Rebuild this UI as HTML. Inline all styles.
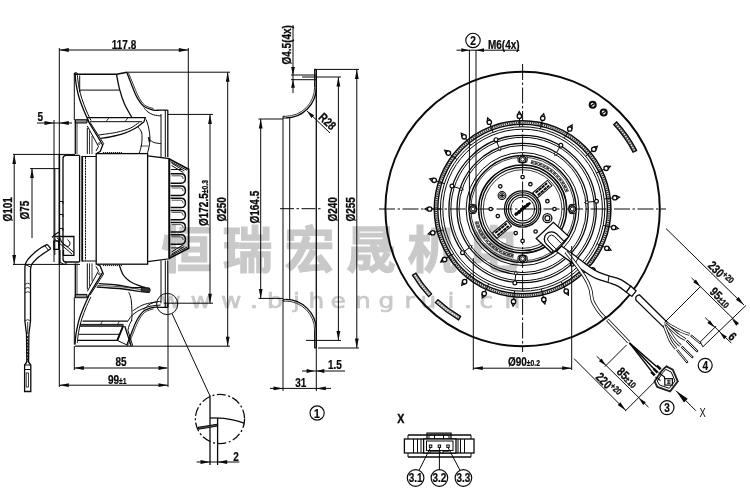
<!DOCTYPE html>
<html><head><meta charset="utf-8"><title>Drawing</title>
<style>html,body{margin:0;padding:0;background:#fff;}
svg{display:block;will-change:transform}
text{font-family:"Liberation Sans","Noto Sans CJK SC",sans-serif;}
</style></head><body>
<svg width="750" height="494" viewBox="0 0 750 494">
<rect width="750" height="494" fill="#fff"/>
<text x="161.5 222.5 284.5 346 407.5 469" y="267.5" font-size="50" font-weight="bold" fill="#c9c9c9" stroke="#c9c9c9" stroke-width="1.2" style="font-family:'Liberation Sans','Noto Sans CJK SC',sans-serif">恒瑞宏晟机电</text>
<text transform="scale(1.13,1)" x="142.04 168.58 195.58 221.24 236.28 259.29 273.01 292.48 314.16 334.96 357.96 372.12 396.02 410.62 424.34 446.46" y="308.3" font-size="22" fill="#c9c9c9" stroke="#c9c9c9" stroke-width="0.7" style="font-family:'DejaVu Sans','Liberation Sans',sans-serif">www.bjhengrui.cn</text>
<line x1="59.30" y1="48.00" x2="59.30" y2="387.00" stroke="#0a0a0a" stroke-width="1.0" />
<line x1="188.30" y1="48.00" x2="188.30" y2="170.00" stroke="#0a0a0a" stroke-width="1.0" />
<line x1="59.30" y1="50.00" x2="188.30" y2="50.00" stroke="#0a0a0a" stroke-width="1.0" />
<polygon points="59.30,50.00 68.80,48.10 68.80,51.90" fill="#0a0a0a"/>
<polygon points="188.30,50.00 178.80,51.90 178.80,48.10" fill="#0a0a0a"/>
<text transform="translate(124.00,48.50) rotate(0) scale(0.8,1)" font-size="12.5" font-weight="bold" text-anchor="middle" fill="#0a0a0a"  stroke="#0a0a0a" stroke-width="0.22">117.8</text>
<line x1="37.00" y1="123.00" x2="72.00" y2="123.00" stroke="#0a0a0a" stroke-width="1.0" />
<line x1="54.00" y1="120.00" x2="54.00" y2="262.00" stroke="#0a0a0a" stroke-width="1.0" />
<polygon points="54.00,123.00 44.50,124.90 44.50,121.10" fill="#0a0a0a"/>
<polygon points="59.30,123.00 68.80,121.10 68.80,124.90" fill="#0a0a0a"/>
<text transform="translate(37.50,121.00) rotate(0) scale(0.8,1)" font-size="12.5" font-weight="bold" text-anchor="start" fill="#0a0a0a"  stroke="#0a0a0a" stroke-width="0.22">5</text>
<line x1="13.00" y1="154.40" x2="75.00" y2="154.40" stroke="#0a0a0a" stroke-width="1.0" />
<line x1="13.00" y1="264.40" x2="80.00" y2="264.40" stroke="#0a0a0a" stroke-width="1.0" />
<line x1="14.20" y1="154.40" x2="14.20" y2="264.40" stroke="#0a0a0a" stroke-width="1.0" />
<polygon points="14.20,154.40 16.10,163.90 12.30,163.90" fill="#0a0a0a"/>
<polygon points="14.20,264.40 12.30,254.90 16.10,254.90" fill="#0a0a0a"/>
<text transform="translate(11.50,221.50) rotate(-90) scale(0.8,1)" font-size="12.5" font-weight="bold" text-anchor="start" fill="#0a0a0a"  stroke="#0a0a0a" stroke-width="0.3">Ø101</text>
<line x1="30.00" y1="168.60" x2="59.00" y2="168.60" stroke="#0a0a0a" stroke-width="1.0" />
<line x1="32.00" y1="168.60" x2="32.00" y2="238.00" stroke="#0a0a0a" stroke-width="1.0" />
<polygon points="32.00,168.60 33.90,178.10 30.10,178.10" fill="#0a0a0a"/>
<text transform="translate(28.80,219.50) rotate(-90) scale(0.8,1)" font-size="12.5" font-weight="bold" text-anchor="start" fill="#0a0a0a"  stroke="#0a0a0a" stroke-width="0.3">Ø75</text>
<line x1="168.00" y1="114.40" x2="213.00" y2="114.40" stroke="#0a0a0a" stroke-width="1.0" />
<line x1="164.00" y1="303.20" x2="213.00" y2="303.20" stroke="#0a0a0a" stroke-width="1.0" />
<line x1="210.00" y1="114.40" x2="210.00" y2="303.20" stroke="#0a0a0a" stroke-width="1.0" />
<polygon points="210.00,114.40 211.90,123.90 208.10,123.90" fill="#0a0a0a"/>
<polygon points="210.00,303.20 208.10,293.70 211.90,293.70" fill="#0a0a0a"/>
<text transform="translate(207.50,226.00) rotate(-90) scale(0.8,1)" font-size="12.5" font-weight="bold" text-anchor="start" fill="#0a0a0a"  stroke="#0a0a0a" stroke-width="0.3">Ø172.5<tspan font-size="8.5">±0.3</tspan></text>
<line x1="127.00" y1="72.20" x2="230.00" y2="72.20" stroke="#0a0a0a" stroke-width="1.0" />
<line x1="133.00" y1="346.20" x2="230.00" y2="346.20" stroke="#0a0a0a" stroke-width="1.0" />
<line x1="227.70" y1="72.20" x2="227.70" y2="346.20" stroke="#0a0a0a" stroke-width="1.0" />
<polygon points="227.70,72.20 229.60,81.70 225.80,81.70" fill="#0a0a0a"/>
<polygon points="227.70,346.20 225.80,336.70 229.60,336.70" fill="#0a0a0a"/>
<text transform="translate(226.00,221.50) rotate(-90) scale(0.8,1)" font-size="12.5" font-weight="bold" text-anchor="start" fill="#0a0a0a"  stroke="#0a0a0a" stroke-width="0.3">Ø250</text>
<line x1="74.30" y1="346.00" x2="74.30" y2="370.00" stroke="#0a0a0a" stroke-width="1.0" />
<line x1="74.30" y1="368.00" x2="167.00" y2="368.00" stroke="#0a0a0a" stroke-width="1.0" />
<polygon points="74.30,368.00 83.80,366.10 83.80,369.90" fill="#0a0a0a"/>
<polygon points="168.00,368.00 158.50,369.90 158.50,366.10" fill="#0a0a0a"/>
<text transform="translate(121.00,366.00) rotate(0) scale(0.8,1)" font-size="12.5" font-weight="bold" text-anchor="middle" fill="#0a0a0a"  stroke="#0a0a0a" stroke-width="0.22">85</text>
<line x1="168.00" y1="303.00" x2="168.00" y2="387.00" stroke="#0a0a0a" stroke-width="1.0" />
<line x1="59.30" y1="385.20" x2="168.00" y2="385.20" stroke="#0a0a0a" stroke-width="1.0" />
<polygon points="59.30,385.20 68.80,383.30 68.80,387.10" fill="#0a0a0a"/>
<polygon points="168.00,385.20 158.50,387.10 158.50,383.30" fill="#0a0a0a"/>
<text transform="translate(108.00,383.50) rotate(0) scale(0.8,1)" font-size="12.5" font-weight="bold" text-anchor="start" fill="#0a0a0a"  stroke="#0a0a0a" stroke-width="0.22">99<tspan font-size="8.5">±1</tspan></text>
<path d="M75.00,72.80 C75.10,74.00 75.30,77.47 75.60,80.00 C75.90,82.53 76.15,84.83 76.80,88.00 C77.45,91.17 78.22,95.00 79.50,99.00 C80.78,103.00 82.92,108.17 84.50,112.00 C86.08,115.83 88.25,120.33 89.00,122.00" stroke="#0a0a0a" stroke-width="1.3" fill="none" />
<path d="M77.30,74.50 C77.42,75.58 77.68,78.67 78.00,81.00 C78.32,83.33 78.57,85.58 79.20,88.50 C79.83,91.42 80.58,94.75 81.80,98.50 C83.02,102.25 84.97,107.33 86.50,111.00 C88.03,114.67 90.25,118.92 91.00,120.50" stroke="#0a0a0a" stroke-width="1.0" fill="none" />
<path d="M74.30,72.90 L74.30,120.00" stroke="#0a0a0a" stroke-width="1.0" fill="none" />
<path d="M75.00,74.30 L116.80,74.30 L126.80,72.30" stroke="#0a0a0a" stroke-width="1.4300000000000002" fill="none" />
<path d="M74.3,75 Q74.3,72.6 75.8,72.6 Q77.4,72.6 77.6,74.5" stroke="#0a0a0a" stroke-width="1.0" fill="none" />
<path d="M79.70,75.50 L79.70,92.00" stroke="#0a0a0a" stroke-width="1.0" fill="none" />
<path d="M79.70,90.10 L119.50,90.10" stroke="#0a0a0a" stroke-width="1.0" fill="none" />
<path d="M116.50,74.30 C117.02,76.80 118.28,84.38 119.60,89.30 C120.92,94.22 122.38,99.15 124.40,103.80 C126.42,108.45 130.48,114.97 131.70,117.20" stroke="#0a0a0a" stroke-width="1.3" fill="none" />
<path d="M126.80,72.30 C127.50,74.12 129.37,79.15 131.00,83.20 C132.63,87.25 134.47,92.75 136.60,96.60 C138.73,100.45 140.98,104.05 143.80,106.30 C146.62,108.55 150.80,109.47 153.50,110.10 C156.20,110.73 157.62,110.10 160.00,110.10 C162.38,110.10 166.50,110.10 167.80,110.10" stroke="#0a0a0a" stroke-width="1.3" fill="none" />
<path d="M128.50,72.80 C129.20,74.50 131.08,79.13 132.70,83.00 C134.32,86.87 136.22,92.33 138.20,96.00 C140.18,99.67 142.05,102.90 144.60,105.00 C147.15,107.10 152.02,108.00 153.50,108.60" stroke="#0a0a0a" stroke-width="0.8" fill="none" />
<path d="M143.80,107.80 C144.50,108.50 146.38,110.83 148.00,112.00 C149.62,113.17 151.33,114.13 153.50,114.80 C155.67,115.47 159.75,115.80 161.00,116.00" stroke="#0a0a0a" stroke-width="1.0" fill="none" />
<path d="M167.80,110.10 L167.80,157.00" stroke="#0a0a0a" stroke-width="1.3" fill="none" />
<path d="M165.30,110.10 L165.30,157.00" stroke="#0a0a0a" stroke-width="1.0" fill="none" />
<path d="M161.00,114.00 L161.00,157.00" stroke="#0a0a0a" stroke-width="1.0" fill="none" />
<path d="M75.00,344.60 C75.10,343.40 75.30,339.93 75.60,337.40 C75.90,334.87 76.15,332.57 76.80,329.40 C77.45,326.23 78.22,322.40 79.50,318.40 C80.78,314.40 82.92,309.23 84.50,305.40 C86.08,301.57 88.25,297.07 89.00,295.40" stroke="#0a0a0a" stroke-width="1.3" fill="none" />
<path d="M77.30,342.90 C77.42,341.82 77.68,338.73 78.00,336.40 C78.32,334.07 78.57,331.82 79.20,328.90 C79.83,325.98 80.58,322.65 81.80,318.90 C83.02,315.15 84.97,310.07 86.50,306.40 C88.03,302.73 90.25,298.48 91.00,296.90" stroke="#0a0a0a" stroke-width="1.0" fill="none" />
<path d="M74.30,344.50 L74.30,297.40" stroke="#0a0a0a" stroke-width="1.0" fill="none" />
<path d="M126.80,345.10 C127.50,343.28 129.37,338.25 131.00,334.20 C132.63,330.15 134.47,324.65 136.60,320.80 C138.73,316.95 140.98,313.35 143.80,311.10 C146.62,308.85 150.80,307.93 153.50,307.30 C156.20,306.67 157.62,307.30 160.00,307.30 C162.38,307.30 166.50,307.30 167.80,307.30" stroke="#0a0a0a" stroke-width="1.3" fill="none" />
<path d="M128.50,344.60 C129.20,342.90 131.08,338.27 132.70,334.40 C134.32,330.53 136.22,325.07 138.20,321.40 C140.18,317.73 142.05,314.50 144.60,312.40 C147.15,310.30 152.02,309.40 153.50,308.80" stroke="#0a0a0a" stroke-width="0.8" fill="none" />
<path d="M143.80,309.60 C144.50,308.90 146.38,306.57 148.00,305.40 C149.62,304.23 151.33,303.27 153.50,302.60 C155.67,301.93 159.75,301.60 161.00,301.40" stroke="#0a0a0a" stroke-width="1.0" fill="none" />
<path d="M167.80,307.30 L167.80,260.40" stroke="#0a0a0a" stroke-width="1.3" fill="none" />
<path d="M165.30,307.30 L165.30,260.40" stroke="#0a0a0a" stroke-width="1.0" fill="none" />
<path d="M161.00,303.40 L161.00,260.40" stroke="#0a0a0a" stroke-width="1.0" fill="none" />
<path d="M75.30,119.70 L86.90,119.70 L86.90,123.00 L75.30,123.00 Z" stroke="#0a0a0a" stroke-width="1.0" fill="#8a8a8a" />
<path d="M75.30,119.70 L75.30,154.00" stroke="#0a0a0a" stroke-width="1.3" fill="none" />
<path d="M77.00,123.00 L77.00,154.00" stroke="#0a0a0a" stroke-width="0.8" fill="none" />
<path d="M87.30,119.70 L102.70,145.00 L100.20,151.50 L97.00,153.00" stroke="#0a0a0a" stroke-width="1.3" fill="none" />
<path d="M90.00,122.30 L103.60,143.50 L102.70,145.00" stroke="#0a0a0a" stroke-width="1.0" fill="none" />
<path d="M87.30,126.00 L98.50,146.50 L96.00,151.00" stroke="#0a0a0a" stroke-width="1.0" fill="none" />
<circle cx="99.30" cy="143.60" r="0.90" stroke="#0a0a0a" stroke-width="0.8" fill="none" />
<path d="M87.30,128.00 L87.30,154.00" stroke="#0a0a0a" stroke-width="1.0" fill="none" />
<path d="M89.50,131.00 L89.50,154.00" stroke="#0a0a0a" stroke-width="0.8" fill="none" />
<path d="M92.00,136.00 L92.00,154.00" stroke="#0a0a0a" stroke-width="0.8" fill="none" />
<path d="M75.30,297.70 L86.90,297.70 L86.90,294.40 L75.30,294.40 Z" stroke="#0a0a0a" stroke-width="1.0" fill="#8a8a8a" />
<path d="M75.30,297.70 L75.30,263.40" stroke="#0a0a0a" stroke-width="1.3" fill="none" />
<path d="M77.00,294.40 L77.00,263.40" stroke="#0a0a0a" stroke-width="0.8" fill="none" />
<path d="M87.30,297.70 L102.70,272.40 L100.20,265.90 L97.00,264.40" stroke="#0a0a0a" stroke-width="1.3" fill="none" />
<path d="M90.00,295.10 L103.60,273.90 L102.70,272.40" stroke="#0a0a0a" stroke-width="1.0" fill="none" />
<path d="M87.30,291.40 L98.50,270.90 L96.00,266.40" stroke="#0a0a0a" stroke-width="1.0" fill="none" />
<circle cx="99.30" cy="273.80" r="0.90" stroke="#0a0a0a" stroke-width="0.8" fill="none" />
<path d="M87.30,289.40 L87.30,263.40" stroke="#0a0a0a" stroke-width="1.0" fill="none" />
<path d="M89.50,286.40 L89.50,263.40" stroke="#0a0a0a" stroke-width="0.8" fill="none" />
<path d="M92.00,281.40 L92.00,263.40" stroke="#0a0a0a" stroke-width="0.8" fill="none" />
<path d="M87.30,117.70 L145.30,117.70 L144.00,121.70" stroke="#0a0a0a" stroke-width="1.3" fill="none" />
<path d="M90.00,121.70 L142.00,121.70" stroke="#0a0a0a" stroke-width="1.0" fill="none" />
<line x1="109.00" y1="117.70" x2="106.00" y2="121.70" stroke="#0a0a0a" stroke-width="0.8" />
<line x1="128.00" y1="117.70" x2="125.00" y2="121.70" stroke="#0a0a0a" stroke-width="0.8" />
<path d="M144.00,121.70 C142.55,122.80 138.75,126.30 135.30,128.30 C131.85,130.30 127.52,132.25 123.30,133.70 C119.08,135.15 113.77,136.23 110.00,137.00 C106.23,137.77 102.25,138.08 100.70,138.30" stroke="#0a0a0a" stroke-width="1.3" fill="none" />
<path d="M139.30,122.30 C137.75,123.30 133.77,126.63 130.00,128.30 C126.23,129.97 121.92,131.18 116.70,132.30 C111.48,133.42 101.70,134.55 98.70,135.00" stroke="#0a0a0a" stroke-width="1.0" fill="none" />
<path d="M138.00,127.00 C138.50,127.67 140.33,129.55 141.00,131.00 C141.67,132.45 141.92,133.37 142.00,135.70 C142.08,138.03 141.95,142.12 141.50,145.00 C141.05,147.88 139.67,151.67 139.30,153.00" stroke="#0a0a0a" stroke-width="1.0" fill="none" />
<path d="M146.20,119.50 C146.62,120.92 148.07,124.87 148.70,128.00 C149.33,131.13 149.95,135.13 150.00,138.30 C150.05,141.47 149.45,144.43 149.00,147.00 C148.55,149.57 147.58,152.58 147.30,153.70" stroke="#0a0a0a" stroke-width="1.0" fill="none" />
<path d="M149.50,139.50 C150.25,140.00 152.08,141.80 154.00,142.50 C155.92,143.20 159.83,143.50 161.00,143.70" stroke="#0a0a0a" stroke-width="1.0" fill="none" />
<line x1="148.60" y1="137.00" x2="149.60" y2="142.00" stroke="#0a0a0a" stroke-width="1.6" />
<line x1="140.50" y1="146.00" x2="148.50" y2="146.00" stroke="#0a0a0a" stroke-width="0.7" />
<line x1="103.00" y1="152.60" x2="122.00" y2="152.60" stroke="#0a0a0a" stroke-width="1.0" stroke-dasharray="1.2 0.8"/>
<path d="M98.70,283.70 C101.70,283.92 110.82,284.33 116.70,285.00 C122.58,285.67 129.33,287.37 134.00,287.70 C138.67,288.03 142.92,287.12 144.70,287.00" stroke="#0a0a0a" stroke-width="1.3" fill="none" />
<path d="M96.70,287.00 C98.92,287.17 105.57,287.67 110.00,288.00 C114.43,288.33 118.18,288.38 123.30,289.00 C128.42,289.62 137.80,291.25 140.70,291.70" stroke="#0a0a0a" stroke-width="1.3" fill="none" />
<path d="M97.50,285.40 C101.25,285.63 112.75,286.12 120.00,286.80 C127.25,287.48 137.50,289.05 141.00,289.50" stroke="#0a0a0a" stroke-width="0.7" fill="none" />
<path d="M141.5,287.3 L149.5,288 Q151,290.3 149.3,292.6 L141,291.8 Z" stroke="#0a0a0a" stroke-width="1.0" fill="#333" />
<path d="M119.30,265.00 C119.58,265.83 120.33,268.33 121.00,270.00 C121.67,271.67 122.22,273.42 123.30,275.00 C124.38,276.58 125.93,278.17 127.50,279.50 C129.07,280.83 130.17,281.75 132.70,283.00 C135.23,284.25 141.03,286.33 142.70,287.00" stroke="#0a0a0a" stroke-width="1.3" fill="none" />
<path d="M128.70,292.30 C129.02,293.08 130.13,295.22 130.60,297.00 C131.07,298.78 131.27,300.00 131.50,303.00 C131.73,306.00 132.00,312.00 132.00,315.00 C132.00,318.00 131.58,320.00 131.50,321.00" stroke="#0a0a0a" stroke-width="1.0" fill="none" />
<line x1="103.00" y1="265.60" x2="122.00" y2="265.60" stroke="#0a0a0a" stroke-width="1.0" stroke-dasharray="1.2 0.8"/>
<path d="M132.70,311.00 C133.58,310.42 136.00,308.62 138.00,307.50 C140.00,306.38 141.58,305.27 144.70,304.30 C147.82,303.33 154.70,302.13 156.70,301.70" stroke="#0a0a0a" stroke-width="1.0" fill="none" />
<path d="M82.60,321.20 L127.90,321.20" stroke="#0a0a0a" stroke-width="1.3" fill="none" />
<path d="M80.00,324.40 L123.50,324.40" stroke="#0a0a0a" stroke-width="1.0" fill="none" />
<line x1="102.50" y1="321.20" x2="100.50" y2="324.40" stroke="#0a0a0a" stroke-width="0.8" />
<line x1="119.50" y1="321.20" x2="117.50" y2="324.40" stroke="#0a0a0a" stroke-width="0.8" />
<path d="M80.00,326.00 L123.10,326.00 L117.30,340.40 L77.80,340.40" stroke="#0a0a0a" stroke-width="1.3" fill="none" />
<line x1="123.10" y1="326.00" x2="117.30" y2="340.40" stroke="#0a0a0a" stroke-width="1.8" />
<path d="M79.00,334.30 L119.50,334.30" stroke="#0a0a0a" stroke-width="1.0" fill="none" />
<path d="M117.30,340.40 L127.90,345.40" stroke="#0a0a0a" stroke-width="1.0" fill="none" />
<path d="M124.70,326.00 L131.10,345.70" stroke="#0a0a0a" stroke-width="1.3" fill="none" />
<path d="M127.90,330.30 L132.70,345.70" stroke="#0a0a0a" stroke-width="1.0" fill="none" />
<path d="M127.90,321.20 C128.42,320.42 129.82,317.87 131.00,316.50 C132.18,315.13 133.33,314.17 135.00,313.00 C136.67,311.83 138.50,310.62 141.00,309.50 C143.50,308.38 146.72,307.05 150.00,306.30 C153.28,305.55 158.92,305.22 160.70,305.00" stroke="#0a0a0a" stroke-width="1.0" fill="none" />
<path d="M127.90,330.30 C128.17,329.33 128.82,326.22 129.50,324.50 C130.18,322.78 131.58,320.75 132.00,320.00" stroke="#0a0a0a" stroke-width="1.0" fill="none" />
<line x1="75.10" y1="346.05" x2="133.00" y2="346.05" stroke="#0a0a0a" stroke-width="1.3" />
<rect x="96.20" y="153.60" width="51.40" height="110.60" stroke="#0a0a0a" stroke-width="1.3" fill="none" />
<path d="M82.00,156.50 L96.20,156.50" stroke="#0a0a0a" stroke-width="1.0" fill="none" />
<path d="M82.00,261.00 L96.20,261.00" stroke="#0a0a0a" stroke-width="1.0" fill="none" />
<line x1="82.20" y1="156.00" x2="82.20" y2="261.50" stroke="#0a0a0a" stroke-width="1.8" />
<line x1="79.60" y1="155.30" x2="79.60" y2="262.00" stroke="#0a0a0a" stroke-width="1.3" />
<line x1="85.50" y1="157.00" x2="85.50" y2="260.50" stroke="#0a0a0a" stroke-width="1.0" stroke-dasharray="2 0.7"/>
<path d="M79.4,155.3 L66,155.3 Q63,155.3 63,158.5 L63,259 Q63,262 66,262 L79.4,262" stroke="#0a0a0a" stroke-width="1.3" fill="none" />
<line x1="59.40" y1="154.40" x2="59.40" y2="264.40" stroke="#0a0a0a" stroke-width="1.5" />
<path d="M59.4,154.6 L63,154.6 M59.4,264.2 L66,264.2 L66,262" stroke="#0a0a0a" stroke-width="1.0" fill="none" />
<line x1="54.80" y1="168.60" x2="54.80" y2="255.00" stroke="#0a0a0a" stroke-width="1.0" />
<path d="M59.40,201.50 L63.00,201.50 L63.00,204.00" stroke="#0a0a0a" stroke-width="1.0" fill="none" />
<path d="M59.40,214.50 L63.00,214.50 L63.00,217.00" stroke="#0a0a0a" stroke-width="1.0" fill="none" />
<path d="M59.40,228.50 L63.00,228.50 L63.00,231.00" stroke="#0a0a0a" stroke-width="1.0" fill="none" />
<path d="M147.60,155.80 L169.30,158.60 L169.30,258.80 L147.60,261.60" stroke="#0a0a0a" stroke-width="1.3" fill="none" />
<path d="M169.30,159.10 L188.60,169.20 L188.60,248.20 L169.30,258.30" stroke="#0a0a0a" stroke-width="1.7" fill="none" />
<path d="M170.50,161.60 L187.00,170.30" stroke="#0a0a0a" stroke-width="1.0" fill="none" />
<path d="M170.50,255.80 L187.00,247.10" stroke="#0a0a0a" stroke-width="1.0" fill="none" />
<line x1="169.30" y1="159.00" x2="169.30" y2="258.40" stroke="#0a0a0a" stroke-width="1.9" />
<path d="M170.6,173.80 L180.9,173.80 Q185.4,173.80 185.4,178.50 Q185.4,183.20 180.9,183.20 L170.6,183.20" stroke="#0a0a0a" stroke-width="1.5" fill="none" />
<path d="M171.6,175.80 L180.4,175.80 Q183.20000000000002,175.80 183.20000000000002,179.00" stroke="#0a0a0a" stroke-width="0.7" fill="none" />
<path d="M170.6,186.00 L180.9,186.00 Q185.4,186.00 185.4,190.70 Q185.4,195.40 180.9,195.40 L170.6,195.40" stroke="#0a0a0a" stroke-width="1.5" fill="none" />
<path d="M171.6,188.00 L180.4,188.00 Q183.20000000000002,188.00 183.20000000000002,191.20" stroke="#0a0a0a" stroke-width="0.7" fill="none" />
<path d="M170.6,198.20 L180.9,198.20 Q185.4,198.20 185.4,202.90 Q185.4,207.60 180.9,207.60 L170.6,207.60" stroke="#0a0a0a" stroke-width="1.5" fill="none" />
<path d="M171.6,200.20 L180.4,200.20 Q183.20000000000002,200.20 183.20000000000002,203.40" stroke="#0a0a0a" stroke-width="0.7" fill="none" />
<path d="M170.6,210.40 L180.9,210.40 Q185.4,210.40 185.4,215.10 Q185.4,219.80 180.9,219.80 L170.6,219.80" stroke="#0a0a0a" stroke-width="1.5" fill="none" />
<path d="M171.6,212.40 L180.4,212.40 Q183.20000000000002,212.40 183.20000000000002,215.60" stroke="#0a0a0a" stroke-width="0.7" fill="none" />
<path d="M170.6,222.60 L180.9,222.60 Q185.4,222.60 185.4,227.30 Q185.4,232.00 180.9,232.00 L170.6,232.00" stroke="#0a0a0a" stroke-width="1.5" fill="none" />
<path d="M171.6,224.60 L180.4,224.60 Q183.20000000000002,224.60 183.20000000000002,227.80" stroke="#0a0a0a" stroke-width="0.7" fill="none" />
<path d="M170.6,234.80 L180.9,234.80 Q185.4,234.80 185.4,239.50 Q185.4,244.20 180.9,244.20 L170.6,244.20" stroke="#0a0a0a" stroke-width="1.5" fill="none" />
<path d="M171.6,236.80 L180.4,236.80 Q183.20000000000002,236.80 183.20000000000002,240.00" stroke="#0a0a0a" stroke-width="0.7" fill="none" />
<path d="M171.6,163.2 L184.4,170.9 M171.6,165.5 L183.4,172.6 M171.1,169.5 L181.9,169.5" stroke="#0a0a0a" stroke-width="1.0" fill="none" />
<path d="M171.6,254.2 L184.4,246.5 M171.6,251.9 L183.4,244.8 M171.1,247.9 L181.9,247.9" stroke="#0a0a0a" stroke-width="1.0" fill="none" />
<path d="M47.20,244.40 C46.17,244.97 42.93,246.58 41.00,247.80 C39.07,249.02 37.35,250.25 35.60,251.70 C33.85,253.15 31.92,255.03 30.50,256.50 C29.08,257.97 27.98,259.08 27.10,260.50 C26.22,261.92 25.57,263.42 25.20,265.00 C24.83,266.58 24.95,269.17 24.90,270.00" stroke="#0a0a0a" stroke-width="1.3" fill="none" />
<path d="M50.80,248.70 C49.83,249.33 46.92,251.18 45.00,252.50 C43.08,253.82 40.97,255.27 39.30,256.60 C37.63,257.93 36.22,259.27 35.00,260.50 C33.78,261.73 32.72,262.75 32.00,264.00 C31.28,265.25 30.95,266.67 30.70,268.00 C30.45,269.33 30.53,271.33 30.50,272.00" stroke="#0a0a0a" stroke-width="1.3" fill="none" />
<path d="M47.20,244.40 L50.80,248.70" stroke="#0a0a0a" stroke-width="1.3" fill="none" />
<path d="M44.80,245.80 L48.40,250.20" stroke="#0a0a0a" stroke-width="1.0" fill="none" />
<path d="M25.30,264.50 L30.90,267.20" stroke="#0a0a0a" stroke-width="1.0" fill="none" />
<path d="M24.90,270.00 L24.90,321.00 L26.50,334.00 L26.80,362.00 L24.60,365.00 L24.60,391.50 L30.80,391.50 L30.80,365.00 L28.60,362.00 L28.90,334.00 L30.50,321.00 L30.50,272.00" stroke="#0a0a0a" stroke-width="1.3" fill="none" />
<line x1="27.70" y1="322.00" x2="27.70" y2="334.00" stroke="#0a0a0a" stroke-width="0.8" />
<path d="M24.90,284.50 C25.37,284.28 26.77,283.20 27.70,283.20 C28.63,283.20 30.03,284.28 30.50,284.50" stroke="#0a0a0a" stroke-width="0.8" fill="none" />
<path d="M24.90,288.80 C25.37,288.58 26.77,287.50 27.70,287.50 C28.63,287.50 30.03,288.58 30.50,288.80" stroke="#0a0a0a" stroke-width="0.8" fill="none" />
<path d="M24.90,293.00 C25.37,292.78 26.77,291.70 27.70,291.70 C28.63,291.70 30.03,292.78 30.50,293.00" stroke="#0a0a0a" stroke-width="0.8" fill="none" />
<path d="M24.90,321.00 C25.37,320.78 26.77,319.70 27.70,319.70 C28.63,319.70 30.03,320.78 30.50,321.00" stroke="#0a0a0a" stroke-width="0.8" fill="none" />
<line x1="27.70" y1="336.00" x2="27.70" y2="362.00" stroke="#0a0a0a" stroke-width="1.2" stroke-dasharray="2 1.2"/>
<path d="M25.00,365.00 L30.40,365.00" stroke="#0a0a0a" stroke-width="1.0" fill="none" />
<path d="M25.00,369.50 L30.40,369.50" stroke="#0a0a0a" stroke-width="1.0" fill="none" />
<rect x="26.20" y="373.00" width="2.20" height="14.00" stroke="#0a0a0a" stroke-width="0.8" fill="none" />
<path d="M55.00,236.50 L73.90,236.50 L73.90,255.30 L63.50,255.30 L63.50,250.00" stroke="#0a0a0a" stroke-width="1.3" fill="none" />
<path d="M55.00,239.50 L72.00,254.00" stroke="#0a0a0a" stroke-width="1.0" fill="none" />
<path d="M57.00,238.00 L73.90,252.50" stroke="#0a0a0a" stroke-width="1.0" fill="none" />
<path d="M53.80,240.80 L58.70,240.80 L58.70,249.30 L53.80,249.30 L53.80,240.80" stroke="#0a0a0a" stroke-width="1.3" fill="none" />
<path d="M60.00,238.00 C60.50,239.00 61.67,242.58 63.00,244.00 C64.33,245.42 66.83,246.67 68.00,246.50 C69.17,246.33 70.08,244.17 70.00,243.00 C69.92,241.83 67.92,240.08 67.50,239.50" stroke="#0a0a0a" stroke-width="1.0" fill="none" />
<path d="M52.00,237.50 C52.50,237.00 53.83,235.42 55.00,234.50 C56.17,233.58 58.33,232.42 59.00,232.00" stroke="#0a0a0a" stroke-width="1.3" fill="none" />
<path d="M60.00,250.00 L60.00,262.00 L63.50,264.20" stroke="#0a0a0a" stroke-width="1.0" fill="none" />
<circle cx="167.20" cy="304.00" r="10.60" stroke="#0a0a0a" stroke-width="1.0" fill="none" />
<line x1="172.00" y1="313.50" x2="210.00" y2="396.00" stroke="#0a0a0a" stroke-width="1.0" />
<circle cx="220.00" cy="419.00" r="24.60" stroke="#0a0a0a" stroke-width="1.3" fill="none" stroke-dasharray="9 2.5 2 2.5"/>
<line x1="210.00" y1="395.60" x2="210.00" y2="465.00" stroke="#0a0a0a" stroke-width="1.3" />
<line x1="217.60" y1="418.00" x2="217.60" y2="465.00" stroke="#0a0a0a" stroke-width="1.3" />
<line x1="210.00" y1="418.00" x2="217.60" y2="418.00" stroke="#0a0a0a" stroke-width="1.3" />
<path d="M217.60,418.00 C219.17,418.13 223.93,418.37 227.00,418.80 C230.07,419.23 233.17,419.87 236.00,420.60 C238.83,421.33 242.67,422.77 244.00,423.20" stroke="#0a0a0a" stroke-width="1.3" fill="none" />
<path d="M198.00,427.30 L217.60,424.20 L217.60,426.00 L198.60,429.20 Z" stroke="#0a0a0a" stroke-width="1.0" fill="#555" />
<line x1="196.60" y1="462.00" x2="239.40" y2="462.00" stroke="#0a0a0a" stroke-width="1.0" />
<polygon points="210.00,462.00 200.50,463.90 200.50,460.10" fill="#0a0a0a"/>
<polygon points="217.60,462.00 227.10,460.10 227.10,463.90" fill="#0a0a0a"/>
<text transform="translate(233.20,460.50) rotate(0) scale(0.8,1)" font-size="12.5" font-weight="bold" text-anchor="start" fill="#0a0a0a"  stroke="#0a0a0a" stroke-width="0.22">2</text>
<line x1="293.00" y1="25.00" x2="293.00" y2="93.00" stroke="#0a0a0a" stroke-width="1.0" />
<line x1="291.00" y1="75.00" x2="316.00" y2="75.00" stroke="#0a0a0a" stroke-width="1.0" />
<line x1="291.00" y1="79.70" x2="316.00" y2="79.70" stroke="#0a0a0a" stroke-width="1.0" />
<polygon points="293.00,75.00 291.10,67.00 294.90,67.00" fill="#0a0a0a"/>
<polygon points="293.00,79.70 294.90,87.70 291.10,87.70" fill="#0a0a0a"/>
<text transform="translate(291.00,64.50) rotate(-90) scale(0.8,1)" font-size="12.5" font-weight="bold" text-anchor="start" fill="#0a0a0a"  stroke="#0a0a0a" stroke-width="0.3">Ø4.5(4x)</text>
<line x1="314.00" y1="69.40" x2="359.00" y2="69.40" stroke="#0a0a0a" stroke-width="1.0" />
<line x1="302.00" y1="77.00" x2="341.00" y2="77.00" stroke="#0a0a0a" stroke-width="1.0" />
<line x1="356.80" y1="69.40" x2="356.80" y2="348.00" stroke="#0a0a0a" stroke-width="1.0" />
<polygon points="356.80,69.40 358.70,78.90 354.90,78.90" fill="#0a0a0a"/>
<polygon points="356.80,348.00 354.90,338.50 358.70,338.50" fill="#0a0a0a"/>
<line x1="338.40" y1="77.00" x2="338.40" y2="340.40" stroke="#0a0a0a" stroke-width="1.0" />
<polygon points="338.40,77.00 340.30,86.50 336.50,86.50" fill="#0a0a0a"/>
<polygon points="338.40,340.40 336.50,330.90 340.30,330.90" fill="#0a0a0a"/>
<line x1="258.50" y1="119.00" x2="283.00" y2="119.00" stroke="#0a0a0a" stroke-width="1.0" />
<line x1="258.50" y1="298.40" x2="283.00" y2="298.40" stroke="#0a0a0a" stroke-width="1.0" />
<line x1="260.70" y1="119.00" x2="260.70" y2="298.40" stroke="#0a0a0a" stroke-width="1.0" />
<polygon points="260.70,119.00 262.60,128.50 258.80,128.50" fill="#0a0a0a"/>
<polygon points="260.70,298.40 258.80,288.90 262.60,288.90" fill="#0a0a0a"/>
<text transform="translate(258.50,223.50) rotate(-90) scale(0.8,1)" font-size="12.5" font-weight="bold" text-anchor="start" fill="#0a0a0a"  stroke="#0a0a0a" stroke-width="0.3">Ø164.5</text>
<text transform="translate(337.00,221.50) rotate(-90) scale(0.8,1)" font-size="12.5" font-weight="bold" text-anchor="start" fill="#0a0a0a"  stroke="#0a0a0a" stroke-width="0.3">Ø240</text>
<text transform="translate(355.00,221.50) rotate(-90) scale(0.8,1)" font-size="12.5" font-weight="bold" text-anchor="start" fill="#0a0a0a"  stroke="#0a0a0a" stroke-width="0.3">Ø255</text>
<line x1="318.00" y1="348.00" x2="359.00" y2="348.00" stroke="#0a0a0a" stroke-width="1.0" />
<line x1="306.00" y1="340.40" x2="341.00" y2="340.40" stroke="#0a0a0a" stroke-width="1.0" />
<path d="M316.30,69.40 L316.30,87.30" stroke="#0a0a0a" stroke-width="1.3" fill="none" />
<path d="M314.60,69.40 L314.60,87.30" stroke="#0a0a0a" stroke-width="1.0" fill="none" />
<path d="M314.60,69.40 L316.30,69.40" stroke="#0a0a0a" stroke-width="1.0" fill="none" />
<path d="M316.3,87.30 A30.7,30.7 0 0 1 285.6,118.00" fill="none" stroke="#0a0a0a" stroke-width="1.3"/>
<path d="M314.6,87.30 A29,29 0 0 1 285.6,116.30" fill="none" stroke="#0a0a0a" stroke-width="0.8"/>
<path d="M285.60,118.00 L283.00,118.00 L283.00,116.30 L285.60,116.30" stroke="#0a0a0a" stroke-width="1.0" fill="none" />
<path d="M316.30,348.00 L316.30,330.10" stroke="#0a0a0a" stroke-width="1.3" fill="none" />
<path d="M314.60,348.00 L314.60,330.10" stroke="#0a0a0a" stroke-width="1.0" fill="none" />
<path d="M314.60,348.00 L316.30,348.00" stroke="#0a0a0a" stroke-width="1.0" fill="none" />
<path d="M316.3,330.10 A30.7,30.7 0 0 0 285.6,299.40" fill="none" stroke="#0a0a0a" stroke-width="1.3"/>
<path d="M314.6,330.10 A29,29 0 0 0 285.6,301.10" fill="none" stroke="#0a0a0a" stroke-width="0.8"/>
<path d="M285.60,299.40 L283.00,299.40 L283.00,301.10 L285.60,301.10" stroke="#0a0a0a" stroke-width="1.0" fill="none" />
<line x1="283.00" y1="118.00" x2="283.00" y2="299.40" stroke="#0a0a0a" stroke-width="1.0" />
<line x1="289.70" y1="117.50" x2="289.70" y2="299.90" stroke="#0a0a0a" stroke-width="1.0" />
<line x1="316.30" y1="69.40" x2="316.30" y2="348.00" stroke="#0a0a0a" stroke-width="1.3" />
<line x1="280.00" y1="208.70" x2="321.00" y2="208.70" stroke="#0a0a0a" stroke-width="1.0" stroke-dasharray="14 2.5 2.5 2.5"/>
<line x1="307.00" y1="111.00" x2="330.00" y2="133.00" stroke="#0a0a0a" stroke-width="1.0" />
<polygon points="307.00,111.00 314.10,115.15 311.47,117.90" fill="#0a0a0a"/>
<text transform="translate(317.80,118.30) rotate(43.7) scale(0.8,1)" font-size="12.5" font-weight="bold" text-anchor="start" fill="#0a0a0a"  stroke="#0a0a0a" stroke-width="0.3">R28</text>
<line x1="270.00" y1="388.40" x2="331.00" y2="388.40" stroke="#0a0a0a" stroke-width="1.0" />
<polygon points="283.00,388.40 273.50,390.30 273.50,386.50" fill="#0a0a0a"/>
<polygon points="316.30,388.40 325.80,386.50 325.80,390.30" fill="#0a0a0a"/>
<line x1="283.00" y1="300.00" x2="283.00" y2="391.00" stroke="#0a0a0a" stroke-width="1.0" />
<text transform="translate(295.30,386.50) rotate(0) scale(0.8,1)" font-size="12.5" font-weight="bold" text-anchor="start" fill="#0a0a0a"  stroke="#0a0a0a" stroke-width="0.22">31</text>
<line x1="316.30" y1="348.00" x2="316.30" y2="391.00" stroke="#0a0a0a" stroke-width="1.0" />
<line x1="302.00" y1="371.00" x2="345.00" y2="371.00" stroke="#0a0a0a" stroke-width="1.0" />
<polygon points="314.60,371.00 306.60,372.90 306.60,369.10" fill="#0a0a0a"/>
<polygon points="316.30,371.00 324.30,369.10 324.30,372.90" fill="#0a0a0a"/>
<text transform="translate(328.00,369.00) rotate(0) scale(0.8,1)" font-size="12.5" font-weight="bold" text-anchor="start" fill="#0a0a0a"  stroke="#0a0a0a" stroke-width="0.22">1.5</text>
<circle cx="317.10" cy="413.00" r="7.10" stroke="#0a0a0a" stroke-width="1.15" fill="none" />
<text transform="translate(316.90,417.50) rotate(0) scale(0.85,1)" font-size="12.5" font-weight="bold" text-anchor="middle" fill="#0a0a0a"  stroke="#0a0a0a" stroke-width="0.22">1</text>
<line x1="379.00" y1="209.00" x2="666.00" y2="209.00" stroke="#0a0a0a" stroke-width="1.0" stroke-dasharray="16 2.5 2.5 2.5"/>
<line x1="522.60" y1="64.00" x2="522.60" y2="352.00" stroke="#0a0a0a" stroke-width="1.0" stroke-dasharray="16 2.5 2.5 2.5"/>
<circle cx="522.60" cy="209.00" r="137.20" stroke="#0a0a0a" stroke-width="2.0" fill="none" />
<circle cx="522.60" cy="209.00" r="86.55" stroke="#d8d8d8" stroke-width="4.0" fill="none" />
<circle cx="522.60" cy="209.00" r="88.30" stroke="#0a0a0a" stroke-width="1.5" fill="none" />
<circle cx="522.60" cy="209.00" r="84.80" stroke="#0a0a0a" stroke-width="1.4" fill="none" />
<circle cx="522.60" cy="209.00" r="86.55" stroke="#222" stroke-width="1.9" fill="none" stroke-dasharray="1.0 1.2"/>
<circle cx="522.60" cy="209.00" r="82.20" stroke="#0a0a0a" stroke-width="1.0" fill="none" />
<circle cx="522.60" cy="209.00" r="79.80" stroke="#0a0a0a" stroke-width="1.0" fill="none" />
<circle cx="522.60" cy="209.00" r="73.70" stroke="#0a0a0a" stroke-width="1.3" fill="none" />
<circle cx="522.60" cy="209.00" r="71.70" stroke="#0a0a0a" stroke-width="1.0" fill="none" />
<circle cx="522.60" cy="209.00" r="65.60" stroke="#0a0a0a" stroke-width="1.3" fill="none" />
<circle cx="522.60" cy="209.00" r="63.60" stroke="#0a0a0a" stroke-width="1.0" fill="none" />
<circle cx="522.60" cy="209.00" r="56.50" stroke="#0a0a0a" stroke-width="1.0" fill="none" />
<circle cx="522.60" cy="209.00" r="53.40" stroke="#0a0a0a" stroke-width="1.5" fill="none" />
<circle cx="522.60" cy="209.00" r="51.80" stroke="#0a0a0a" stroke-width="0.8" fill="none" />
<circle cx="522.60" cy="209.00" r="44.00" stroke="#0a0a0a" stroke-width="1.5" fill="none" />
<circle cx="522.60" cy="209.00" r="41.70" stroke="#0a0a0a" stroke-width="1.2" fill="none" />
<circle cx="522.60" cy="209.00" r="39.30" stroke="#0a0a0a" stroke-width="0.8" fill="none" />
<circle cx="522.60" cy="209.00" r="18.10" stroke="#0a0a0a" stroke-width="1.3" fill="none" />
<circle cx="522.60" cy="209.00" r="16.30" stroke="#0a0a0a" stroke-width="1.1" fill="none" />
<circle cx="522.60" cy="209.00" r="14.20" stroke="#0a0a0a" stroke-width="1.3" fill="none" />
<circle cx="522.60" cy="209.00" r="12.00" stroke="#0a0a0a" stroke-width="1.0" fill="none" />
<line x1="440.40" y1="209.00" x2="431.60" y2="209.00" stroke="#0a0a0a" stroke-width="1.0" />
<path d="M428.52,210.89 L425.00,209.00 L428.52,207.11" stroke="#0a0a0a" stroke-width="1.2" fill="#fff" />
<circle cx="429.70" cy="209.00" r="2.20" stroke="#0a0a0a" stroke-width="1.3" fill="#fff" />
<line x1="444.42" y1="183.60" x2="436.05" y2="180.88" stroke="#0a0a0a" stroke-width="1.0" />
<path d="M432.54,181.72 L429.78,178.84 L433.71,178.13" stroke="#0a0a0a" stroke-width="1.2" fill="#fff" />
<circle cx="434.25" cy="180.29" r="2.20" stroke="#0a0a0a" stroke-width="1.3" fill="#fff" />
<line x1="456.95" y1="159.53" x2="449.92" y2="154.23" stroke="#0a0a0a" stroke-width="1.0" />
<path d="M446.33,153.89 L444.65,150.26 L448.60,150.87" stroke="#0a0a0a" stroke-width="1.2" fill="#fff" />
<circle cx="448.41" cy="153.09" r="2.20" stroke="#0a0a0a" stroke-width="1.3" fill="#fff" />
<line x1="470.87" y1="145.12" x2="465.33" y2="138.28" stroke="#0a0a0a" stroke-width="1.0" />
<path d="M461.93,137.07 L461.18,133.15 L464.86,134.70" stroke="#0a0a0a" stroke-width="1.2" fill="#fff" />
<circle cx="464.14" cy="136.80" r="2.20" stroke="#0a0a0a" stroke-width="1.3" fill="#fff" />
<line x1="493.14" y1="132.26" x2="489.99" y2="124.04" stroke="#0a0a0a" stroke-width="1.0" />
<path d="M487.12,121.84 L487.62,117.88 L490.65,120.49" stroke="#0a0a0a" stroke-width="1.2" fill="#fff" />
<circle cx="489.31" cy="122.27" r="2.20" stroke="#0a0a0a" stroke-width="1.3" fill="#fff" />
<line x1="519.73" y1="126.85" x2="519.42" y2="118.06" stroke="#0a0a0a" stroke-width="1.0" />
<path d="M517.43,115.04 L519.19,111.46 L521.20,114.91" stroke="#0a0a0a" stroke-width="1.2" fill="#fff" />
<circle cx="519.36" cy="116.16" r="2.20" stroke="#0a0a0a" stroke-width="1.3" fill="#fff" />
<line x1="540.39" y1="128.75" x2="542.30" y2="120.16" stroke="#0a0a0a" stroke-width="1.0" />
<path d="M541.12,116.74 L543.72,113.71 L544.81,117.56" stroke="#0a0a0a" stroke-width="1.2" fill="#fff" />
<circle cx="542.71" cy="118.30" r="2.20" stroke="#0a0a0a" stroke-width="1.3" fill="#fff" />
<line x1="564.32" y1="138.17" x2="568.79" y2="130.59" stroke="#0a0a0a" stroke-width="1.0" />
<path d="M568.72,126.98 L572.14,124.90 L571.98,128.90" stroke="#0a0a0a" stroke-width="1.2" fill="#fff" />
<circle cx="569.75" cy="128.95" r="2.20" stroke="#0a0a0a" stroke-width="1.3" fill="#fff" />
<line x1="585.57" y1="156.16" x2="592.31" y2="150.51" stroke="#0a0a0a" stroke-width="1.0" />
<path d="M593.46,147.08 L597.37,146.26 L595.88,149.97" stroke="#0a0a0a" stroke-width="1.2" fill="#fff" />
<circle cx="593.77" cy="149.29" r="2.20" stroke="#0a0a0a" stroke-width="1.3" fill="#fff" />
<line x1="596.48" y1="172.97" x2="604.39" y2="169.11" stroke="#0a0a0a" stroke-width="1.0" />
<path d="M606.33,166.06 L610.32,166.21 L607.99,169.46" stroke="#0a0a0a" stroke-width="1.2" fill="#fff" />
<circle cx="606.10" cy="168.28" r="2.20" stroke="#0a0a0a" stroke-width="1.3" fill="#fff" />
<line x1="604.19" y1="198.98" x2="612.92" y2="197.91" stroke="#0a0a0a" stroke-width="1.0" />
<path d="M615.75,195.66 L619.47,197.11 L616.21,199.41" stroke="#0a0a0a" stroke-width="1.2" fill="#fff" />
<circle cx="614.81" cy="197.68" r="2.20" stroke="#0a0a0a" stroke-width="1.3" fill="#fff" />
<line x1="603.15" y1="225.39" x2="611.77" y2="227.14" stroke="#0a0a0a" stroke-width="1.0" />
<path d="M615.17,225.91 L618.24,228.46 L614.42,229.61" stroke="#0a0a0a" stroke-width="1.2" fill="#fff" />
<circle cx="613.64" cy="227.52" r="2.20" stroke="#0a0a0a" stroke-width="1.3" fill="#fff" />
<line x1="597.10" y1="243.74" x2="605.07" y2="247.46" stroke="#0a0a0a" stroke-width="1.0" />
<path d="M608.66,247.05 L611.06,250.25 L607.07,250.47" stroke="#0a0a0a" stroke-width="1.2" fill="#fff" />
<circle cx="606.80" cy="248.26" r="2.20" stroke="#0a0a0a" stroke-width="1.3" fill="#fff" />
<line x1="584.64" y1="262.93" x2="591.28" y2="268.70" stroke="#0a0a0a" stroke-width="1.0" />
<path d="M594.84,269.30 L596.26,273.03 L592.36,272.15" stroke="#0a0a0a" stroke-width="1.2" fill="#fff" />
<circle cx="592.71" cy="269.95" r="2.20" stroke="#0a0a0a" stroke-width="1.3" fill="#fff" />
<line x1="561.19" y1="281.58" x2="565.32" y2="289.35" stroke="#0a0a0a" stroke-width="1.0" />
<path d="M568.44,291.18 L568.42,295.18 L565.10,292.96" stroke="#0a0a0a" stroke-width="1.2" fill="#fff" />
<circle cx="566.21" cy="291.03" r="2.20" stroke="#0a0a0a" stroke-width="1.3" fill="#fff" />
<line x1="541.37" y1="289.03" x2="543.38" y2="297.60" stroke="#0a0a0a" stroke-width="1.0" />
<path d="M545.92,300.16 L544.89,304.02 L542.24,301.03" stroke="#0a0a0a" stroke-width="1.2" fill="#fff" />
<circle cx="543.81" cy="299.45" r="2.20" stroke="#0a0a0a" stroke-width="1.3" fill="#fff" />
<line x1="514.58" y1="290.81" x2="513.72" y2="299.57" stroke="#0a0a0a" stroke-width="1.0" />
<path d="M515.30,302.82 L513.08,306.13 L511.54,302.45" stroke="#0a0a0a" stroke-width="1.2" fill="#fff" />
<circle cx="513.53" cy="301.46" r="2.20" stroke="#0a0a0a" stroke-width="1.3" fill="#fff" />
<line x1="488.64" y1="283.86" x2="485.01" y2="291.87" stroke="#0a0a0a" stroke-width="1.0" />
<path d="M485.45,295.46 L482.28,297.88 L482.01,293.90" stroke="#0a0a0a" stroke-width="1.2" fill="#fff" />
<circle cx="484.22" cy="293.60" r="2.20" stroke="#0a0a0a" stroke-width="1.3" fill="#fff" />
<line x1="471.32" y1="273.24" x2="465.83" y2="280.12" stroke="#0a0a0a" stroke-width="1.0" />
<path d="M465.38,283.70 L461.71,285.28 L462.43,281.35" stroke="#0a0a0a" stroke-width="1.2" fill="#fff" />
<circle cx="464.64" cy="281.60" r="2.20" stroke="#0a0a0a" stroke-width="1.3" fill="#fff" />
<line x1="453.58" y1="253.65" x2="446.19" y2="258.43" stroke="#0a0a0a" stroke-width="1.0" />
<path d="M444.63,261.69 L440.65,262.01 L442.58,258.52" stroke="#0a0a0a" stroke-width="1.2" fill="#fff" />
<circle cx="444.60" cy="259.46" r="2.20" stroke="#0a0a0a" stroke-width="1.3" fill="#fff" />
<line x1="443.13" y1="230.00" x2="434.62" y2="232.25" stroke="#0a0a0a" stroke-width="1.0" />
<path d="M432.12,234.86 L428.24,233.93 L431.16,231.21" stroke="#0a0a0a" stroke-width="1.2" fill="#fff" />
<circle cx="432.78" cy="232.73" r="2.20" stroke="#0a0a0a" stroke-width="1.3" fill="#fff" />
<line x1="500.38" y1="151.12" x2="496.62" y2="141.32" stroke="#0a0a0a" stroke-width="1.0" />
<circle cx="495.97" cy="139.63" r="1.90" stroke="#0a0a0a" stroke-width="1.2" fill="#fff" />
<circle cx="499.45" cy="148.69" r="1.40" stroke="#0a0a0a" stroke-width="1.0" fill="#fff" />
<line x1="554.53" y1="155.86" x2="559.94" y2="146.86" stroke="#0a0a0a" stroke-width="1.0" />
<circle cx="560.87" cy="145.31" r="1.90" stroke="#0a0a0a" stroke-width="1.2" fill="#fff" />
<circle cx="555.87" cy="153.63" r="1.40" stroke="#0a0a0a" stroke-width="1.0" fill="#fff" />
<line x1="584.26" y1="202.52" x2="594.70" y2="201.42" stroke="#0a0a0a" stroke-width="1.0" />
<circle cx="596.49" cy="201.23" r="1.90" stroke="#0a0a0a" stroke-width="1.2" fill="#fff" />
<circle cx="586.85" cy="202.25" r="1.40" stroke="#0a0a0a" stroke-width="1.0" fill="#fff" />
<line x1="564.09" y1="255.07" x2="571.11" y2="262.88" stroke="#0a0a0a" stroke-width="1.0" />
<circle cx="572.32" cy="264.22" r="1.90" stroke="#0a0a0a" stroke-width="1.2" fill="#fff" />
<circle cx="565.83" cy="257.01" r="1.40" stroke="#0a0a0a" stroke-width="1.0" fill="#fff" />
<line x1="516.12" y1="270.66" x2="515.02" y2="281.10" stroke="#0a0a0a" stroke-width="1.0" />
<circle cx="514.83" cy="282.89" r="1.90" stroke="#0a0a0a" stroke-width="1.2" fill="#fff" />
<circle cx="515.85" cy="273.25" r="1.40" stroke="#0a0a0a" stroke-width="1.0" fill="#fff" />
<line x1="472.44" y1="245.44" x2="463.95" y2="251.61" stroke="#0a0a0a" stroke-width="1.0" />
<circle cx="462.49" cy="252.67" r="1.90" stroke="#0a0a0a" stroke-width="1.2" fill="#fff" />
<circle cx="470.34" cy="246.97" r="1.40" stroke="#0a0a0a" stroke-width="1.0" fill="#fff" />
<line x1="463.63" y1="189.84" x2="453.65" y2="186.60" stroke="#0a0a0a" stroke-width="1.0" />
<circle cx="451.94" cy="186.04" r="1.90" stroke="#0a0a0a" stroke-width="1.2" fill="#fff" />
<circle cx="461.16" cy="189.04" r="1.40" stroke="#0a0a0a" stroke-width="1.0" fill="#fff" />
<path d="M567.23,191.87 A47.8,47.8 0 0 0 530.90,161.93" fill="none" stroke="#333" stroke-width="1.5" stroke-dasharray="3.2 1"/>
<path d="M476.43,221.37 A47.8,47.8 0 0 0 513.48,255.92" fill="none" stroke="#333" stroke-width="1.5" stroke-dasharray="3.2 1"/>
<path d="M565.92,192.37 A46.4,46.4 0 0 0 530.66,163.30" fill="none" stroke="#0a0a0a" stroke-width="0.8" />
<path d="M568.53,191.37 A49.2,49.2 0 0 0 531.14,160.55" fill="none" stroke="#0a0a0a" stroke-width="0.8" />
<path d="M477.78,221.01 A46.4,46.4 0 0 0 513.75,254.55" fill="none" stroke="#0a0a0a" stroke-width="0.8" />
<path d="M475.08,221.73 A49.2,49.2 0 0 0 513.21,257.30" fill="none" stroke="#0a0a0a" stroke-width="0.8" />
<g transform="translate(572.20,209.00) rotate(0)">
<rect x="-3.20" y="-4.60" width="7.20" height="9.20" stroke="#0a0a0a" stroke-width="1.0" fill="#fff" rx="2"/>
</g>
<circle cx="572.20" cy="209.00" r="3.30" stroke="#0a0a0a" stroke-width="1.4" fill="#fff" />
<circle cx="572.20" cy="209.00" r="1.90" stroke="#0a0a0a" stroke-width="1.0" fill="none" />
<g transform="translate(522.60,159.40) rotate(-90)">
<rect x="-3.20" y="-4.60" width="7.20" height="9.20" stroke="#0a0a0a" stroke-width="1.0" fill="#fff" rx="2"/>
</g>
<circle cx="522.60" cy="159.40" r="3.30" stroke="#0a0a0a" stroke-width="1.4" fill="#fff" />
<circle cx="522.60" cy="159.40" r="1.90" stroke="#0a0a0a" stroke-width="1.0" fill="none" />
<g transform="translate(473.00,209.00) rotate(-180)">
<rect x="-3.20" y="-4.60" width="7.20" height="9.20" stroke="#0a0a0a" stroke-width="1.0" fill="#fff" rx="2"/>
</g>
<circle cx="473.00" cy="209.00" r="3.30" stroke="#0a0a0a" stroke-width="1.4" fill="#fff" />
<circle cx="473.00" cy="209.00" r="1.90" stroke="#0a0a0a" stroke-width="1.0" fill="none" />
<g transform="translate(522.60,258.60) rotate(-270)">
<rect x="-3.20" y="-4.60" width="7.20" height="9.20" stroke="#0a0a0a" stroke-width="1.0" fill="#fff" rx="2"/>
</g>
<circle cx="522.60" cy="258.60" r="3.30" stroke="#0a0a0a" stroke-width="1.4" fill="#fff" />
<circle cx="522.60" cy="258.60" r="1.90" stroke="#0a0a0a" stroke-width="1.0" fill="none" />
<circle cx="554.50" cy="209.00" r="1.70" stroke="#0a0a0a" stroke-width="1.3" fill="#fff" />
<circle cx="522.60" cy="177.10" r="1.70" stroke="#0a0a0a" stroke-width="1.3" fill="#fff" />
<circle cx="490.70" cy="209.00" r="1.70" stroke="#0a0a0a" stroke-width="1.3" fill="#fff" />
<circle cx="522.60" cy="240.90" r="1.70" stroke="#0a0a0a" stroke-width="1.3" fill="#fff" />
<circle cx="530.38" cy="184.19" r="1.70" stroke="#0a0a0a" stroke-width="1.3" fill="#fff" />
<circle cx="500.27" cy="186.36" r="1.70" stroke="#0a0a0a" stroke-width="1.3" fill="#fff" />
<circle cx="547.41" cy="201.22" r="1.70" stroke="#0a0a0a" stroke-width="1.3" fill="#fff" />
<circle cx="497.80" cy="216.11" r="1.70" stroke="#0a0a0a" stroke-width="1.3" fill="#fff" />
<circle cx="515.71" cy="233.03" r="1.70" stroke="#0a0a0a" stroke-width="1.3" fill="#fff" />
<circle cx="535.60" cy="231.52" r="1.70" stroke="#0a0a0a" stroke-width="1.3" fill="#fff" />
<circle cx="502.02" cy="195.53" r="3.90" stroke="#0a0a0a" stroke-width="1.1" fill="#fff" />
<circle cx="502.02" cy="195.53" r="2.60" stroke="#0a0a0a" stroke-width="0.8" fill="none" />
<line x1="500.02" y1="195.53" x2="504.02" y2="195.53" stroke="#0a0a0a" stroke-width="1.4" />
<line x1="502.02" y1="193.53" x2="502.02" y2="197.53" stroke="#0a0a0a" stroke-width="1.4" />
<circle cx="547.40" cy="218.20" r="4.50" stroke="#0a0a0a" stroke-width="1.3" fill="#fff" />
<circle cx="547.40" cy="218.20" r="2.50" stroke="#0a0a0a" stroke-width="1.2" fill="none" />
<g transform="translate(522.6,209.0) rotate(-39.5)">
<line x1="-10.00" y1="0.00" x2="10.00" y2="0.00" stroke="#0a0a0a" stroke-width="2.6" />
<line x1="-9.00" y1="-1.10" x2="9.00" y2="-1.10" stroke="#0a0a0a" stroke-width="1.4" stroke-dasharray="2.2 1.4"/>
<line x1="-8.00" y1="1.10" x2="8.00" y2="1.10" stroke="#0a0a0a" stroke-width="1.4" stroke-dasharray="2.2 1.4" stroke-dashoffset="1.5"/>
</g>
<g transform="translate(542.40,189.20) rotate(-40)">
<rect x="-9.50" y="-3.50" width="19.00" height="7.00" stroke="#0a0a0a" stroke-width="1.0" fill="#fff" />
<line x1="-7.50" y1="-1.60" x2="7.50" y2="-1.60" stroke="#0a0a0a" stroke-width="2.0" stroke-dasharray="3.5 0.5"/>
<line x1="-7.50" y1="1.60" x2="7.50" y2="1.60" stroke="#0a0a0a" stroke-width="2.0" stroke-dasharray="3.5 0.5"/>
</g>
<g transform="translate(502.00,229.50) rotate(-40)">
<rect x="-9.50" y="-3.50" width="19.00" height="7.00" stroke="#0a0a0a" stroke-width="1.0" fill="#fff" />
<line x1="-7.50" y1="-1.60" x2="7.50" y2="-1.60" stroke="#0a0a0a" stroke-width="2.0" stroke-dasharray="3.5 0.5"/>
<line x1="-7.50" y1="1.60" x2="7.50" y2="1.60" stroke="#0a0a0a" stroke-width="2.0" stroke-dasharray="3.5 0.5"/>
</g>
<path d="M636.62,150.40 A128.2,128.2 0 0 0 616.66,121.90 L613.73,124.61 A124.2,124.2 0 0 1 633.07,152.23 Z" stroke="#0a0a0a" stroke-width="1.3" fill="#5a5a5a" />
<path d="M634.34,150.34 A126.2,126.2 0 0 0 615.94,124.07" fill="none" stroke="#fff" stroke-width="1.5" stroke-dasharray="1.1 1.5"/>
<path d="M412.45,275.18 A128.5,128.5 0 0 0 428.62,296.64 L431.55,293.91 A124.5,124.5 0 0 1 415.88,273.12 Z" stroke="#0a0a0a" stroke-width="1.3" fill="#999" />
<path d="M414.74,275.10 A126.5,126.5 0 0 0 429.33,294.46" fill="none" stroke="#fff" stroke-width="1.5" stroke-dasharray="1.1 1.5"/>
<path d="M435.30,302.61 A128.0,128.0 0 0 0 458.60,319.85 L460.60,316.39 A124.0,124.0 0 0 1 438.03,299.69 Z" stroke="#0a0a0a" stroke-width="1.3" fill="#999" />
<path d="M437.48,301.90 A126,126 0 0 0 458.65,317.57" fill="none" stroke="#fff" stroke-width="1.5" stroke-dasharray="1.1 1.5"/>
<circle cx="592.70" cy="104.70" r="3.00" stroke="#0a0a0a" stroke-width="2.0" fill="#fff" />
<line x1="590.90" y1="106.00" x2="594.50" y2="103.40" stroke="#0a0a0a" stroke-width="1.3" />
<circle cx="603.70" cy="112.50" r="3.00" stroke="#0a0a0a" stroke-width="2.0" fill="#fff" />
<line x1="601.90" y1="113.80" x2="605.50" y2="111.20" stroke="#0a0a0a" stroke-width="1.3" />
<path d="M536.20,238.50 L553.40,222.30 L568.80,236.60 L551.60,252.80 Z" stroke="#0a0a0a" stroke-width="1.3" fill="#fff" />
<path d="M563.6,240.9 L556.6,233.9 A7.2,7.2 0 0 0 546.4,244.1 L553.6,251.3" stroke="#0a0a0a" stroke-width="1.3" fill="#fff" />
<path d="M561.2,243.3 L554.2,236.3 A3.8,3.8 0 0 0 548.8,241.7 L556,248.9" stroke="#0a0a0a" stroke-width="1.0" fill="none" />
<path d="M561.50,246.00 C563.58,247.50 569.25,251.45 574.00,255.00 C578.75,258.55 585.72,264.35 590.00,267.30 C594.28,270.25 596.57,271.28 599.70,272.70 C602.83,274.12 605.37,274.68 608.80,275.80 C612.23,276.92 616.65,277.68 620.30,279.40 C623.95,281.12 628.97,284.98 630.70,286.10 L626.4,292.2 L626.40,292.20 C624.98,291.18 620.93,287.72 617.90,286.10 C614.87,284.48 611.43,283.62 608.20,282.50 C604.97,281.38 601.53,280.62 598.50,279.40 C595.47,278.18 594.58,278.08 590.00,275.20 C585.42,272.32 576.58,266.05 571.00,262.10 C565.42,258.15 558.92,253.27 556.50,251.50 Z" stroke="#0a0a0a" stroke-width="1.3" fill="#fff" />
<line x1="609.00" y1="276.00" x2="608.00" y2="282.40" stroke="#0a0a0a" stroke-width="1.0" />
<line x1="578.00" y1="258.20" x2="574.50" y2="264.60" stroke="#0a0a0a" stroke-width="1.0" />
<path d="M630.70,286.10 L636.10,290.90 L631.90,296.40 L626.40,292.20 Z" stroke="#0a0a0a" stroke-width="1.3" fill="#fff" />
<path d="M639.4,294.8 L670,325 L664,327.6 L636,300.2 Q634.6,295.6 639.4,294.8 Z" stroke="#0a0a0a" stroke-width="1.3" fill="#fff" />
<path d="M665.30,322.50 C667.83,323.92 676.45,329.02 680.50,331.00 C684.55,332.98 688.08,333.83 689.60,334.40" stroke="#0a0a0a" stroke-width="3.0" fill="none" />
<path d="M665.30,322.50 C667.83,323.92 676.45,329.02 680.50,331.00 C684.55,332.98 688.08,333.83 689.60,334.40" stroke="#fff" stroke-width="1.5" fill="none" />
<line x1="690.84" y1="335.41" x2="700.70" y2="343.50" stroke="#0a0a0a" stroke-width="2.2" />
<line x1="691.30" y1="335.79" x2="699.93" y2="342.87" stroke="#fff" stroke-width="1.0" />
<path d="M665.00,323.50 C667.25,325.45 675.08,332.53 678.50,335.20 C681.92,337.87 684.33,338.78 685.50,339.50" stroke="#0a0a0a" stroke-width="3.0" fill="none" />
<path d="M665.00,323.50 C667.25,325.45 675.08,332.53 678.50,335.20 C681.92,337.87 684.33,338.78 685.50,339.50" stroke="#fff" stroke-width="1.5" fill="none" />
<line x1="686.64" y1="340.63" x2="697.70" y2="351.60" stroke="#0a0a0a" stroke-width="2.2" />
<line x1="687.06" y1="341.05" x2="696.99" y2="350.90" stroke="#fff" stroke-width="1.0" />
<path d="M664.60,324.50 C666.37,327.13 672.55,336.80 675.20,340.30 C677.85,343.80 679.62,344.63 680.50,345.50" stroke="#0a0a0a" stroke-width="3.0" fill="none" />
<path d="M664.60,324.50 C666.37,327.13 672.55,336.80 675.20,340.30 C677.85,343.80 679.62,344.63 680.50,345.50" stroke="#fff" stroke-width="1.5" fill="none" />
<line x1="681.65" y1="346.62" x2="693.00" y2="357.70" stroke="#0a0a0a" stroke-width="2.2" />
<line x1="682.07" y1="347.04" x2="692.28" y2="357.00" stroke="#fff" stroke-width="1.0" />
<path d="M664.20,325.50 C665.20,328.00 668.23,336.65 670.20,340.50 C672.17,344.35 675.03,347.25 676.00,348.60" stroke="#0a0a0a" stroke-width="3.0" fill="none" />
<path d="M664.20,325.50 C665.20,328.00 668.23,336.65 670.20,340.50 C672.17,344.35 675.03,347.25 676.00,348.60" stroke="#fff" stroke-width="1.5" fill="none" />
<line x1="677.01" y1="349.84" x2="687.60" y2="362.80" stroke="#0a0a0a" stroke-width="2.2" />
<line x1="677.39" y1="350.30" x2="686.97" y2="362.03" stroke="#fff" stroke-width="1.0" />
<path d="M566.00,252.00 C567.33,253.67 570.97,257.95 574.00,262.00 C577.03,266.05 581.50,271.88 584.20,276.30 C586.90,280.72 588.82,284.45 590.20,288.50 C591.58,292.55 591.15,296.90 592.50,300.60 C593.85,304.30 596.32,307.83 598.30,310.70 C600.28,313.57 603.38,316.62 604.40,317.80" stroke="#0a0a0a" stroke-width="3.6" fill="none" />
<path d="M566.00,252.00 C567.33,253.67 570.97,257.95 574.00,262.00 C577.03,266.05 581.50,271.88 584.20,276.30 C586.90,280.72 588.82,284.45 590.20,288.50 C591.58,292.55 591.15,296.90 592.50,300.60 C593.85,304.30 596.32,307.83 598.30,310.70 C600.28,313.57 603.38,316.62 604.40,317.80" stroke="#fff" stroke-width="2.0" fill="none" />
<line x1="603.00" y1="319.00" x2="606.00" y2="316.40" stroke="#0a0a0a" stroke-width="1.0" />
<path d="M607.4,319.8 L628.7,342.1" stroke="#0a0a0a" stroke-width="3.4" fill="none" />
<path d="M607.7,320.1 L628.9,342.3" stroke="#fff" stroke-width="1.8" fill="none" />
<line x1="702.80" y1="346.80" x2="745.90" y2="305.50" stroke="#0a0a0a" stroke-width="1.0" />
<line x1="700.30" y1="341.90" x2="716.10" y2="326.10" stroke="#0a0a0a" stroke-width="1.0" />
<line x1="700.30" y1="341.90" x2="702.80" y2="346.80" stroke="#0a0a0a" stroke-width="1.0" />
<line x1="705.20" y1="317.60" x2="731.30" y2="343.10" stroke="#0a0a0a" stroke-width="1.0" />
<polygon points="714.30,327.30 707.30,322.99 709.99,320.30" fill="#0a0a0a"/>
<polygon points="719.80,332.20 726.80,336.51 724.11,339.20" fill="#0a0a0a"/>
<text transform="translate(727.50,337.40) rotate(45) scale(0.8,1)" font-size="12.5" font-weight="bold" text-anchor="start" fill="#0a0a0a"  stroke="#0a0a0a" stroke-width="0.3">6</text>
<line x1="664.50" y1="322.50" x2="700.50" y2="286.50" stroke="#0a0a0a" stroke-width="1.0" />
<line x1="691.60" y1="278.00" x2="738.50" y2="324.00" stroke="#0a0a0a" stroke-width="1.0" />
<polygon points="700.20,286.60 693.20,282.29 695.89,279.60" fill="#0a0a0a"/>
<polygon points="731.90,318.80 738.90,323.11 736.21,325.80" fill="#0a0a0a"/>
<text transform="translate(709.10,292.60) rotate(45) scale(0.8,1)" font-size="12.5" font-weight="bold" text-anchor="start" fill="#0a0a0a"  stroke="#0a0a0a" stroke-width="0.3">95<tspan font-size="9">±10</tspan></text>
<line x1="666.00" y1="228.50" x2="744.00" y2="305.00" stroke="#0a0a0a" stroke-width="1.0" />
<polygon points="744.00,305.00 735.94,299.63 738.63,296.94" fill="#0a0a0a"/>
<text transform="translate(707.20,266.30) rotate(45) scale(0.8,1)" font-size="12.5" font-weight="bold" text-anchor="start" fill="#0a0a0a"  stroke="#0a0a0a" stroke-width="0.3">230<tspan font-size="9" dy="-4">+20</tspan></text>
<line x1="473.30" y1="258.00" x2="473.30" y2="370.00" stroke="#0a0a0a" stroke-width="1.0" />
<line x1="571.70" y1="246.00" x2="571.70" y2="370.00" stroke="#0a0a0a" stroke-width="1.0" />
<line x1="473.30" y1="368.20" x2="571.70" y2="368.20" stroke="#0a0a0a" stroke-width="1.0" />
<polygon points="473.30,368.20 482.80,366.30 482.80,370.10" fill="#0a0a0a"/>
<polygon points="571.70,368.20 562.20,370.10 562.20,366.30" fill="#0a0a0a"/>
<text transform="translate(524.00,366.30) rotate(0) scale(0.8,1)" font-size="12.5" font-weight="bold" text-anchor="middle" fill="#0a0a0a"  stroke="#0a0a0a" stroke-width="0.22">Ø90<tspan font-size="8.5">±0.2</tspan></text>
<line x1="574.00" y1="358.60" x2="625.80" y2="410.40" stroke="#0a0a0a" stroke-width="1.0" />
<polygon points="625.80,410.40 617.74,405.03 620.43,402.34" fill="#0a0a0a"/>
<text transform="translate(594.90,377.80) rotate(45) scale(0.8,1)" font-size="12.5" font-weight="bold" text-anchor="start" fill="#0a0a0a"  stroke="#0a0a0a" stroke-width="0.3">220<tspan font-size="9" dy="-4">+20</tspan></text>
<line x1="626.60" y1="344.90" x2="604.80" y2="366.70" stroke="#0a0a0a" stroke-width="1.0" />
<line x1="655.00" y1="381.30" x2="625.00" y2="411.20" stroke="#0a0a0a" stroke-width="1.0" />
<line x1="596.70" y1="356.20" x2="648.50" y2="407.20" stroke="#0a0a0a" stroke-width="1.0" />
<polygon points="605.90,365.60 598.90,361.29 601.59,358.60" fill="#0a0a0a"/>
<polygon points="638.80,397.90 645.80,402.21 643.11,404.90" fill="#0a0a0a"/>
<text transform="translate(616.00,372.50) rotate(45) scale(0.8,1)" font-size="12.5" font-weight="bold" text-anchor="start" fill="#0a0a0a"  stroke="#0a0a0a" stroke-width="0.3">85<tspan font-size="9">±10</tspan></text>
<circle cx="667.00" cy="407.60" r="7.00" stroke="#0a0a0a" stroke-width="1.2" fill="none" />
<text transform="translate(667.00,412.30) rotate(0) scale(0.8,1)" font-size="12.5" font-weight="bold" text-anchor="middle" fill="#0a0a0a"  stroke="#0a0a0a" stroke-width="0.22">3</text>
<circle cx="705.20" cy="365.30" r="7.00" stroke="#0a0a0a" stroke-width="1.2" fill="none" />
<text transform="translate(705.20,369.80) rotate(0) scale(0.8,1)" font-size="12.5" font-weight="bold" text-anchor="middle" fill="#0a0a0a"  stroke="#0a0a0a" stroke-width="0.22">4</text>
<line x1="695.80" y1="410.70" x2="676.00" y2="390.80" stroke="#0a0a0a" stroke-width="1.0" />
<polygon points="676.00,390.80 687.74,398.86 684.06,402.54" fill="#0a0a0a"/>
<text transform="translate(699.50,417.00) rotate(0) scale(0.75,1)" font-size="12.5" font-weight="normal" text-anchor="start" fill="#0a0a0a" >X</text>
<line x1="469.40" y1="50.00" x2="469.40" y2="209.00" stroke="#0a0a0a" stroke-width="1.0" />
<line x1="476.00" y1="50.00" x2="476.00" y2="209.00" stroke="#0a0a0a" stroke-width="1.0" />
<line x1="456.50" y1="50.20" x2="519.50" y2="50.20" stroke="#0a0a0a" stroke-width="1.0" />
<polygon points="469.40,50.20 461.40,52.10 461.40,48.30" fill="#0a0a0a"/>
<polygon points="476.00,50.20 484.00,48.30 484.00,52.10" fill="#0a0a0a"/>
<circle cx="473.00" cy="40.40" r="7.20" stroke="#0a0a0a" stroke-width="1.15" fill="#fff" />
<text transform="translate(473.00,44.80) rotate(0) scale(0.85,1)" font-size="12" font-weight="bold" text-anchor="middle" fill="#0a0a0a"  stroke="#0a0a0a" stroke-width="0.22">2</text>
<text transform="translate(488.00,48.50) rotate(0) scale(0.8,1)" font-size="12.5" font-weight="bold" text-anchor="start" fill="#0a0a0a"  stroke="#0a0a0a" stroke-width="0.22">M6(4x)</text>
<line x1="629.40" y1="342.90" x2="656.80" y2="366.80" stroke="#0a0a0a" stroke-width="1.5" />
<line x1="629.40" y1="342.90" x2="654.30" y2="369.20" stroke="#0a0a0a" stroke-width="1.5" />
<line x1="629.40" y1="342.90" x2="651.80" y2="371.60" stroke="#0a0a0a" stroke-width="1.5" />
<path d="M666.40,366.40 L672.80,369.60 L677.80,381.40 L670.10,391.40 L657.30,386.90 L654.60,381.40 L661.90,370.50 Z" stroke="#222" stroke-width="1.9" fill="#fff" />
<path d="M665.80,369.40 L671.20,372.00 L675.00,381.00 L669.30,388.30 L659.50,385.00 L657.30,381.00 L662.80,372.60 Z" stroke="#0a0a0a" stroke-width="1.0" fill="none" />
<rect x="664.80" y="378.70" width="7.60" height="6.40" stroke="#0a0a0a" stroke-width="1.2" fill="none" />
<path d="M667,380.3 L670.6,380.3 M667,382 L670.6,382 M667,383.6 L670.6,383.6 M668.8,380.3 L668.8,383.6" stroke="#0a0a0a" stroke-width="0.8" fill="none" />
<path d="M656.80,365.60 L660.60,369.20" stroke="#0a0a0a" stroke-width="2.6" fill="none" />
<path d="M653.60,368.60 L657.60,372.60" stroke="#0a0a0a" stroke-width="2.6" fill="none" />
<path d="M651.20,371.80 L654.80,375.40" stroke="#0a0a0a" stroke-width="2.6" fill="none" />
<path d="M658.50,372.50 L664.50,377.00 L664.50,379.00" stroke="#0a0a0a" stroke-width="1.2" fill="none" />
<path d="M655.50,377.00 L660.50,380.50" stroke="#0a0a0a" stroke-width="1.2" fill="none" />
<text transform="translate(397.30,423.00) rotate(0) scale(0.85,1)" font-size="12.5" font-weight="bold" text-anchor="start" fill="#0a0a0a" stroke="#0a0a0a" stroke-width="0.4">X</text>
<path d="M408.00,435.00 L471.00,435.00" stroke="#0a0a0a" stroke-width="1.3" fill="none" />
<path d="M408.00,457.00 L471.00,457.00" stroke="#0a0a0a" stroke-width="1.3" fill="none" />
<path d="M408.00,435.00 L408.00,439.00" stroke="#0a0a0a" stroke-width="1.0" fill="none" />
<path d="M471.00,435.00 L471.00,439.00" stroke="#0a0a0a" stroke-width="1.0" fill="none" />
<path d="M408.00,457.00 L408.00,453.00" stroke="#0a0a0a" stroke-width="1.0" fill="none" />
<path d="M471.00,457.00 L471.00,453.00" stroke="#0a0a0a" stroke-width="1.0" fill="none" />
<rect x="404.40" y="439.00" width="69.60" height="14.00" stroke="#0a0a0a" stroke-width="1.3" fill="none" />
<line x1="413.50" y1="439.00" x2="413.50" y2="453.00" stroke="#0a0a0a" stroke-width="1.0" />
<line x1="417.50" y1="439.00" x2="417.50" y2="453.00" stroke="#0a0a0a" stroke-width="1.0" />
<line x1="460.50" y1="439.00" x2="460.50" y2="453.00" stroke="#0a0a0a" stroke-width="1.0" />
<line x1="464.50" y1="439.00" x2="464.50" y2="453.00" stroke="#0a0a0a" stroke-width="1.0" />
<line x1="421.00" y1="439.00" x2="421.00" y2="453.00" stroke="#0a0a0a" stroke-width="1.0" />
<line x1="458.00" y1="439.00" x2="458.00" y2="453.00" stroke="#0a0a0a" stroke-width="1.0" />
<rect x="423.60" y="439.00" width="32.40" height="14.00" stroke="#0a0a0a" stroke-width="1.3" fill="#fff" />
<rect x="426.50" y="441.00" width="26.50" height="9.50" stroke="#0a0a0a" stroke-width="1.0" fill="none" />
<path d="M427.00,439.00 L427.00,433.20 L451.00,433.20 L451.00,439.00" stroke="#0a0a0a" stroke-width="1.3" fill="none" />
<path d="M429.00,439.00 L429.00,435.00 L449.00,435.00 L449.00,439.00" stroke="#0a0a0a" stroke-width="1.0" fill="none" />
<line x1="434.50" y1="435.00" x2="434.50" y2="439.00" stroke="#0a0a0a" stroke-width="1.0" />
<line x1="443.50" y1="435.00" x2="443.50" y2="439.00" stroke="#0a0a0a" stroke-width="1.0" />
<path d="M430.00,453.00 L430.00,451.20 L440.00,451.20 L440.00,453.00" stroke="#0a0a0a" stroke-width="1.0" fill="none" />
<path d="M443.00,453.00 L443.00,451.20 L449.00,451.20" stroke="#0a0a0a" stroke-width="1.0" fill="none" />
<rect x="429.40" y="445.00" width="2.40" height="2.40" stroke="#0a0a0a" stroke-width="1.0" fill="none" />
<rect x="438.20" y="445.00" width="2.40" height="2.40" stroke="#0a0a0a" stroke-width="1.0" fill="none" />
<rect x="446.80" y="445.00" width="2.40" height="2.40" stroke="#0a0a0a" stroke-width="1.0" fill="none" />
<line x1="430.60" y1="447.40" x2="419.00" y2="470.30" stroke="#0a0a0a" stroke-width="1.0" />
<line x1="439.40" y1="447.40" x2="439.40" y2="469.70" stroke="#0a0a0a" stroke-width="1.0" />
<line x1="448.00" y1="447.40" x2="460.00" y2="470.30" stroke="#0a0a0a" stroke-width="1.0" />
<circle cx="415.60" cy="478.00" r="8.30" stroke="#0a0a0a" stroke-width="1.2" fill="none" />
<text transform="translate(415.60,482.30) rotate(0) scale(0.8,1)" font-size="12.5" font-weight="bold" text-anchor="middle" fill="#0a0a0a"  stroke="#0a0a0a" stroke-width="0.22">3.1</text>
<circle cx="439.40" cy="478.00" r="8.30" stroke="#0a0a0a" stroke-width="1.2" fill="none" />
<text transform="translate(439.40,482.30) rotate(0) scale(0.8,1)" font-size="12.5" font-weight="bold" text-anchor="middle" fill="#0a0a0a"  stroke="#0a0a0a" stroke-width="0.22">3.2</text>
<circle cx="463.40" cy="478.00" r="8.30" stroke="#0a0a0a" stroke-width="1.2" fill="none" />
<text transform="translate(463.40,482.30) rotate(0) scale(0.8,1)" font-size="12.5" font-weight="bold" text-anchor="middle" fill="#0a0a0a"  stroke="#0a0a0a" stroke-width="0.22">3.3</text>
</svg></body></html>
